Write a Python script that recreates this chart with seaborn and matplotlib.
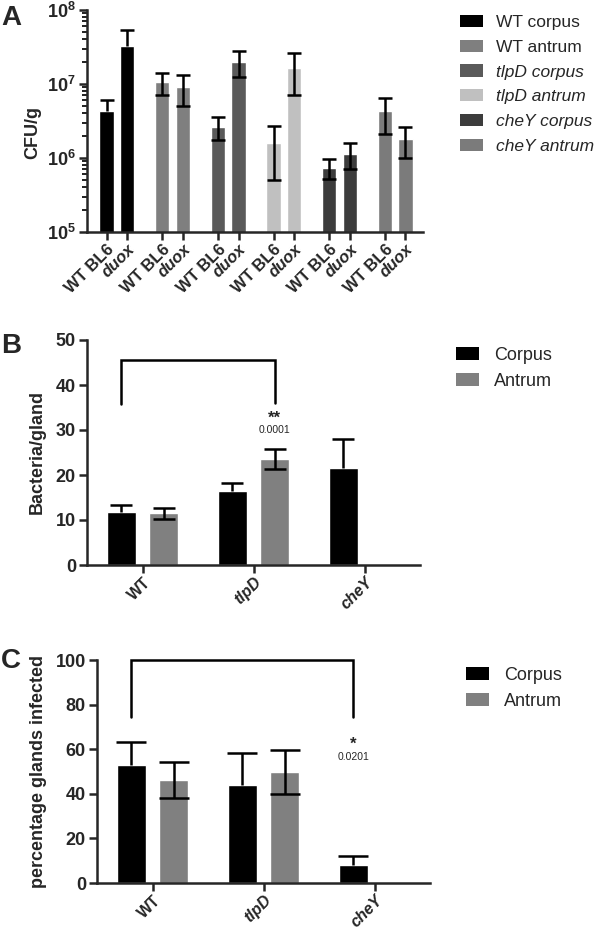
import numpy as np
import pandas as pd
import matplotlib
matplotlib.use("Agg")
import matplotlib.pyplot as plt
import seaborn as sns
from matplotlib.patches import Patch

# ---------------- data ----------------
# Panel A
groups_A = ["WT corpus", "WT antrum", "tlpD corpus", "tlpD antrum", "cheY corpus", "cheY antrum"]
hosts_A = ["WT BL6", "duox"]
cfu_A = [4.3e6, 3.3e7,
         1.07e7, 9.1e6,
         2.65e6, 2.0e7,
         1.6e6, 1.65e7,
         7.4e5, 1.15e6,
         4.3e6, 1.8e6]
err_A = [1.7e6, 2.0e7,
         3.5e6, 4.0e6,
         0.9e6, 7.5e6,
         1.1e6, 9.5e6,
         2.2e5, 4.5e5,
         2.2e6, 0.8e6]
colors_A = ["#000000", "#7f7f7f", "#5a5a5a", "#c0c0c0", "#3c3c3c", "#7b7b7b"]
yticks_A = [1e5, 1e6, 1e7, 1e8]
ytick_labels_A = [r"$\mathbf{10^{5}}$", r"$\mathbf{10^{6}}$", r"$\mathbf{10^{7}}$", r"$\mathbf{10^{8}}$"]

# Panel B
genotypes = ["WT", "tlpD", "cheY"]
regions = ["Corpus", "Antrum"]
bact_corpus = [11.8, 16.5, 21.6]
bact_corpus_err = [1.6, 1.8, 6.5]
bact_antrum = [11.5, 23.5, np.nan]
bact_antrum_err = [1.2, 2.2, np.nan]

# Panel C
pct_corpus = [53.1, 43.9, 7.9]
pct_corpus_err = [10.2, 14.6, 4.1]
pct_antrum = [46.1, 49.6, np.nan]
pct_antrum_err = [8.0, 9.9, np.nan]

region_colors = ["#000000", "#808080"]

# ---------------- style ----------------
sns.set_style("ticks")
plt.rcParams["font.family"] = ["Liberation Sans", "DejaVu Sans"]
plt.rcParams["mathtext.fontset"] = "custom"
plt.rcParams["mathtext.rm"] = "Liberation Sans"
plt.rcParams["mathtext.bf"] = "Liberation Sans:bold"
plt.rcParams["mathtext.it"] = "Liberation Sans:italic"

LW = 1.8
W, H = 600, 930
fig = plt.figure(figsize=(6, 9.3), dpi=100)


def ax_px(left, top, right, bottom):
    return fig.add_axes([left / W, 1 - bottom / H, (right - left) / W, (bottom - top) / H])


def style_axis(ax):
    sns.despine(ax=ax)
    for s in ["left", "bottom"]:
        ax.spines[s].set_linewidth(LW)
    ax.tick_params(axis="both", which="major", width=LW, length=6, pad=2,
                   labelsize=13)
    ax.tick_params(axis="x", pad=1)
    for lab in ax.get_yticklabels():
        lab.set_fontweight("bold")


def style_xlabels(ax, italic_test, size):
    for lab in ax.get_xticklabels():
        lab.set_rotation(45)
        lab.set_ha("right")
        lab.set_va("top")
        lab.set_rotation_mode("anchor")
        lab.set_fontweight("bold")
        lab.set_fontsize(size)
        if italic_test(lab.get_text()):
            lab.set_fontstyle("italic")


def upper_errorbar(ax, x, y, err, capsize):
    """Error bar drawn above the bar only (as for the black bars)."""
    err = np.asarray(err, dtype=float)
    _, caps, _ = ax.errorbar(x, y, yerr=np.vstack([np.zeros_like(err), err]),
                             fmt="none", ecolor="black", elinewidth=LW,
                             capsize=capsize, capthick=LW, zorder=5)
    caps[0].set_visible(False)


def full_errorbar(ax, x, y, err, capsize):
    ax.errorbar(x, y, yerr=err, fmt="none", ecolor="black", elinewidth=LW,
                capsize=capsize, capthick=LW, zorder=5)


# ---------------- Panel A ----------------
axA = ax_px(87, 10, 423, 232)
axA.set_yscale("log")
pos_A = []
grp_col = []
host_col = []
for g, grp in enumerate(groups_A):
    for i, h in enumerate(hosts_A):
        pos_A.append(g * 2.7 + i)
        grp_col.append(grp)
        host_col.append(h)
dfA = pd.DataFrame({"pos": pos_A, "cfu": cfu_A, "group": grp_col, "host": host_col})
sns.barplot(data=dfA, x="pos", y="cfu", hue="group", hue_order=groups_A,
            palette=colors_A, native_scale=True, width=0.7, dodge=False,
            errorbar=None, legend=False, ax=axA, saturation=1, zorder=2)
black_A = np.array([c == "#000000" for c in np.repeat(colors_A, 2)])
errA = np.array(err_A)
posA = np.array(pos_A)
valA = np.array(cfu_A)
upper_errorbar(axA, posA[black_A], valA[black_A], errA[black_A], 5)
full_errorbar(axA, posA[~black_A], valA[~black_A], errA[~black_A], 5)
axA.set_ylim(1e5, 1e8)
axA.set_xlim(-0.95, 15.35)
style_axis(axA)
axA.set_yticks(yticks_A, ytick_labels_A)
axA.yaxis.set_minor_locator(matplotlib.ticker.LogLocator(base=10, subs=np.arange(2, 10)))
axA.yaxis.set_minor_formatter(matplotlib.ticker.NullFormatter())
axA.tick_params(axis="y", which="minor", width=LW * 0.8, length=3.5)
axA.tick_params(axis="y", which="major", labelsize=13)
axA.set_xticks(pos_A, host_col)
style_xlabels(axA, lambda t: t == "duox", 12)
axA.set_xlabel("")
axA.set_ylabel("CFU/g", fontsize=13, fontweight="bold")
axA.yaxis.set_label_coords(-0.135, 0.45)

handlesA = [Patch(facecolor=c, edgecolor="none") for c in colors_A]
legA = fig.legend(handlesA, groups_A, loc="upper left",
                  bbox_to_anchor=(460 / W, 1 - 15 / H), frameon=False,
                  fontsize=12.5, handlelength=1.3, handleheight=0.7,
                  handletextpad=0.8, labelspacing=0.55, borderpad=0,
                  borderaxespad=0)
for t in legA.get_texts():
    if not t.get_text().startswith("WT"):
        t.set_fontstyle("italic")

# ---------------- Panels B and C ----------------
OFF = 0.19


def region_panel(ax, corpus, corpus_err, antrum, antrum_err, capsize):
    rows = []
    for gi, gname in enumerate(genotypes):
        rows.append({"genotype": gname, "region": "Corpus", "value": corpus[gi]})
        if not np.isnan(antrum[gi]):
            rows.append({"genotype": gname, "region": "Antrum", "value": antrum[gi]})
    df = pd.DataFrame(rows)
    sns.barplot(data=df, x="genotype", y="value", hue="region", order=genotypes,
                hue_order=regions, palette=region_colors, width=0.76, gap=0.33,
                errorbar=None, legend=False, ax=ax, saturation=1, zorder=2)
    xs = np.arange(len(genotypes))
    upper_errorbar(ax, xs - OFF, corpus, corpus_err, capsize)
    m = ~np.isnan(np.array(antrum, dtype=float))
    full_errorbar(ax, (xs + OFF)[m], np.array(antrum)[m],
                  np.array(antrum_err)[m], capsize)
    ax.set_xlim(-0.5, 2.5)
    style_axis(ax)
    ax.set_xlabel("")
    style_xlabels(ax, lambda t: t != "WT", 11.5)
    for lab in ax.get_yticklabels():
        lab.set_fontweight("bold")


def region_legend(x, y):
    handles = [Patch(facecolor=c, edgecolor="none") for c in region_colors]
    fig.legend(handles, regions, loc="upper left",
               bbox_to_anchor=(x / W, 1 - y / H), frameon=False,
               fontsize=13, handlelength=1.3, handleheight=0.7,
               handletextpad=0.8, labelspacing=0.5, borderpad=0,
               borderaxespad=0)


axB = ax_px(87, 340, 420, 565)
region_panel(axB, bact_corpus, bact_corpus_err, bact_antrum, bact_antrum_err, 8)
axB.set_ylim(0, 50)
axB.set_yticks([0, 10, 20, 30, 40, 50])
for lab in axB.get_yticklabels():
    lab.set_fontweight("bold")
axB.set_ylabel("Bacteria/gland", fontsize=13, fontweight="bold")
axB.yaxis.set_label_coords(-0.125, 0.5)
xl, xr = 0 - OFF, 1 + OFF
axB.plot([xl, xl, xr, xr], [35.8, 45.5, 45.5, 36.0], color="black", lw=LW,
         solid_joinstyle="miter", clip_on=False)
axB.text(xr, 31.6, "**", ha="center", va="baseline", fontsize=12, fontweight="bold")
axB.text(xr, 29.4, "0.0001", ha="center", va="baseline", fontsize=7.5)
region_legend(456, 347)

axC = ax_px(97, 660, 430, 883)
region_panel(axC, pct_corpus, pct_corpus_err, pct_antrum, pct_antrum_err, 11)
axC.set_ylim(0, 100)
axC.set_yticks([0, 20, 40, 60, 80, 100])
for lab in axC.get_yticklabels():
    lab.set_fontweight("bold")
axC.set_ylabel("percentage glands infected", fontsize=13, fontweight="bold")
axC.yaxis.set_label_coords(-0.15, 0.5)
xl, xr = 0 - OFF, 2 - OFF
axC.plot([xl, xl, xr, xr], [74.5, 100, 100, 74.5], color="black", lw=LW,
         solid_joinstyle="miter", clip_on=False)
axC.text(xr, 60.0, "*", ha="center", va="baseline", fontsize=12, fontweight="bold")
axC.text(xr, 55.0, "0.0201", ha="center", va="baseline", fontsize=7.5)
region_legend(466, 667)

# panel letters
for letter, base in [("A", 25), ("B", 353), ("C", 668)]:
    fig.text(1 / W, 1 - base / H, letter, fontsize=20, fontweight="bold",
             ha="left", va="baseline")

fig.savefig("out.png", dpi=100)
